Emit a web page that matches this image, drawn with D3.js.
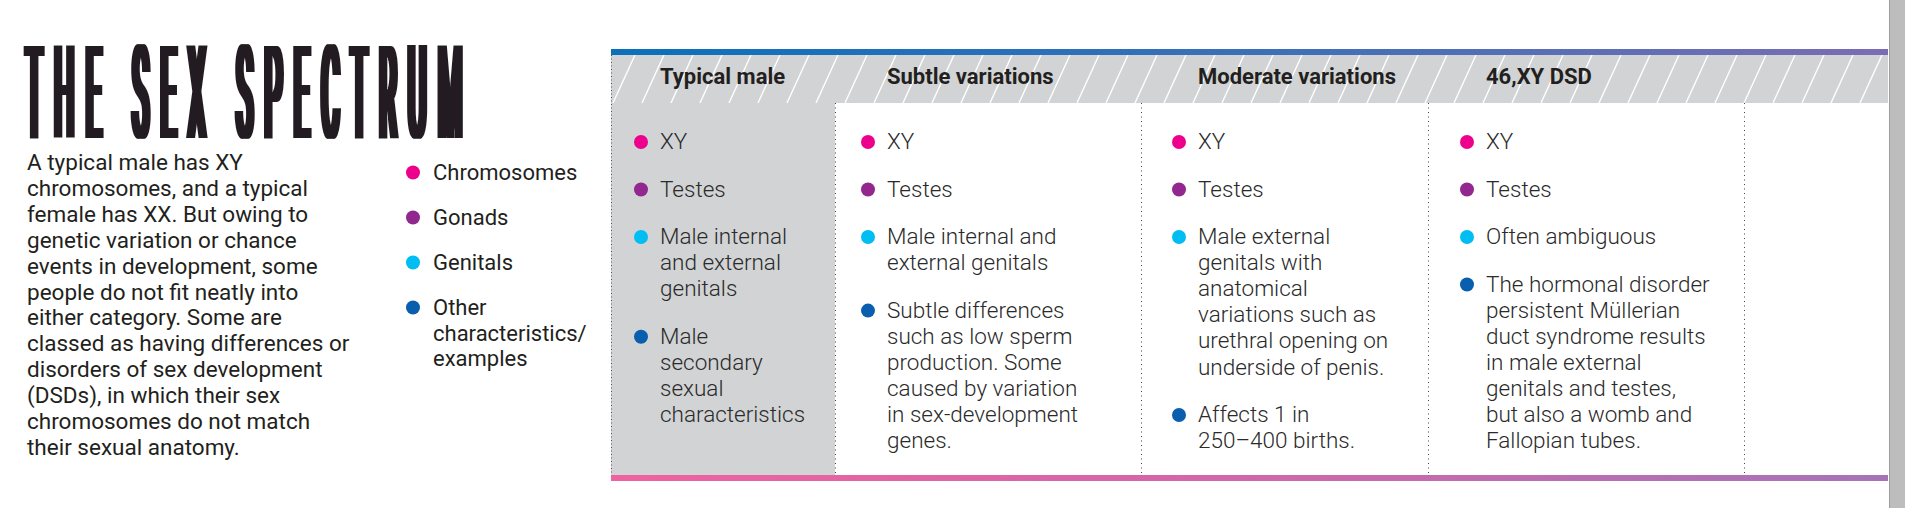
<!DOCTYPE html>
<html>
<head>
<meta charset="utf-8">
<script src="https://cdn.jsdelivr.net/npm/d3@7"></script>
<style>
	body { margin: 0; background: #fff; }
	text { font-family: Roboto, "Noto Sans", sans-serif; }
</style>
</head>
<body>
<div id="chart"></div>
<script>

///////////////////////////////////////////////////////////////////////////
/////////////////////////////// The data //////////////////////////////////
///////////////////////////////////////////////////////////////////////////

var title = "THE SEX SPECTRUM";

var introLines = [
	"A typical male has XY",
	"chromosomes, and a typical",
	"female has XX. But owing to",
	"genetic variation or chance",
	"events in development, some",
	"people do not fit neatly into",
	"either category. Some are",
	"classed as having differences or",
	"disorders of sex development",
	"(DSDs), in which their sex",
	"chromosomes do not match",
	"their sexual anatomy."
];

//Legend categories (already broken into lines) and their dot colours
var categories = [["Chromosomes"], ["Gonads"], ["Genitals"], ["Other", "characteristics/", "examples"]];
var categoryColors = ["#ec008c", "#92278f", "#00bdf2", "#0a5eae"];

//Column headers
var columns = ["Typical male", "Subtle variations", "Moderate variations", "46,XY DSD"];

//One entry per column, each entry is a list of lines
var chromosomes = [["XY"], ["XY"], ["XY"], ["XY"]];
var gonads = [["Testes"], ["Testes"], ["Testes"], ["Testes"]];
var genitals = [
	["Male internal", "and external", "genitals"],
	["Male internal and", "external genitals"],
	["Male external", "genitals with", "anatomical", "variations such as", "urethral opening on", "underside of penis."],
	["Often ambiguous"]
];
var otherTraits = [
	["Male", "secondary", "sexual", "characteristics"],
	["Subtle differences", "such as low sperm", "production. Some", "caused by variation", "in sex-development", "genes."],
	["Affects 1 in", "250\u2013400 births."],
	["The hormonal disorder", "persistent M\u00fcllerian", "duct syndrome results", "in male external", "genitals and testes,", "but also a womb and", "Fallopian tubes."]
];

///////////////////////////////////////////////////////////////////////////
//////////////////////////// Set up the SVG ///////////////////////////////
///////////////////////////////////////////////////////////////////////////

var width = 1905,
	height = 508;

var textColor = "#231f20",
	lineHeight = 26.1,
	itemGap = 47.5;

//Table frame
var tableLeft = 611,
	tableRight = 1888,
	barTop = 49,
	headTop = 55,
	headBottom = 103,
	tableBottom = 475;

//Column edges and where the text of each column starts
var colEdges = [611, 835, 1141, 1428, 1744, 1888];
var colText = d3.scaleOrdinal().domain(columns).range([660, 887, 1198, 1486]);

var svg = d3.select("#chart")
	.append("svg")
	.attr("width", width)
	.attr("height", height);

svg.append("rect").attr("width", width).attr("height", height).style("fill", "#fff");

///////////////////////////////////////////////////////////////////////////
////////////////////////// Create defs elements ///////////////////////////
///////////////////////////////////////////////////////////////////////////

var defs = svg.append("defs");

//Hatched header background
var hatch = defs.append("pattern")
	.attr("id", "hatch")
	.attr("patternUnits", "userSpaceOnUse")
	.attr("x", tableLeft)
	.attr("y", headTop)
	.attr("width", 29)
	.attr("height", headBottom - headTop);
hatch.append("rect")
	.attr("width", 29)
	.attr("height", headBottom - headTop)
	.style("fill", "#d1d3d4");
hatch.append("line")
	.attr("x1", 2).attr("y1", headBottom - headTop)
	.attr("x2", 24).attr("y2", 0)
	.style("stroke", "#fff")
	.style("stroke-width", 1.4);

//Thicken only the vertical stems of the title (horizontal dilation)
var stemFilter = defs.append("filter")
	.attr("id", "stems")
	.attr("filterUnits", "userSpaceOnUse")
	.attr("x", 0).attr("y", 0)
	.attr("width", 600).attr("height", 180);
stemFilter.append("feMorphology")
	.attr("operator", "dilate")
	.attr("radius", "3 0");

//Gradients for the top and bottom bars
var topGradient = defs.append("linearGradient")
	.attr("id", "top-gradient")
	.attr("x1", 0).attr("y1", 0)
	.attr("x2", 1).attr("y2", 0);
topGradient.append("stop").attr("offset", "0%").attr("stop-color", "#0b70ba");
topGradient.append("stop").attr("offset", "50%").attr("stop-color", "#3a70b8");
topGradient.append("stop").attr("offset", "100%").attr("stop-color", "#7b6db3");

var bottomGradient = defs.append("linearGradient")
	.attr("id", "bottom-gradient")
	.attr("x1", 0).attr("y1", 0)
	.attr("x2", 1).attr("y2", 0);
bottomGradient.append("stop").attr("offset", "0%").attr("stop-color", "#ef62a0");
bottomGradient.append("stop").attr("offset", "50%").attr("stop-color", "#cf68ab");
bottomGradient.append("stop").attr("offset", "100%").attr("stop-color", "#a673b7");

///////////////////////////////////////////////////////////////////////////
///////////////////////// Title, intro and legend /////////////////////////
///////////////////////////////////////////////////////////////////////////

//Very condensed title: squeeze a regular font, spread it out, fatten the stems
var titleScale = 0.21;
svg.append("g")
	.attr("class", "title-wrapper")
	.style("filter", "url(#stems)")
	.append("text")
	.attr("class", "title")
	.attr("transform", "translate(26,138) scale(" + titleScale + ",1)")
	.attr("textLength", 436 / titleScale)
	.attr("lengthAdjust", "spacing")
	.style("font-size", "130px")
	.style("font-weight", 400)
	.style("fill", textColor)
	.text(title);

svg.append("g").attr("class", "intro")
	.selectAll("text")
	.data(introLines)
	.enter().append("text")
	.attr("x", 27)
	.attr("y", function(d, i) { return 170 + i * 25.9; })
	.style("font-size", "22.5px")
	.style("fill", textColor)
	.text(function(d) { return d; });

//Legend, every entry flows under the previous one
var legend = svg.append("g").attr("class", "legend");
var legendY = 180;
categories.forEach(function(lines, k) {
	legend.append("circle")
		.attr("cx", 413)
		.attr("cy", legendY - 7.5)
		.attr("r", 7)
		.style("fill", categoryColors[k]);
	legend.selectAll(".legend-line-" + k)
		.data(lines)
		.enter().append("text")
		.attr("class", "legend-line-" + k)
		.attr("x", 433)
		.attr("y", function(d, j) { return legendY + j * 25.5; })
		.style("font-size", "22px")
		.style("fill", textColor)
		.text(function(d) { return d; });
	legendY += (lines.length - 1) * 25.5 + 45;
});

///////////////////////////////////////////////////////////////////////////
/////////////////////////////// The table /////////////////////////////////
///////////////////////////////////////////////////////////////////////////

var table = svg.append("g").attr("class", "table");

//Grey background of the typical male column
table.append("rect")
	.attr("x", colEdges[0])
	.attr("y", headBottom)
	.attr("width", colEdges[1] - colEdges[0])
	.attr("height", tableBottom - headBottom)
	.style("fill", "#d1d3d4");

//Hatched header
table.append("rect")
	.attr("x", tableLeft)
	.attr("y", headTop)
	.attr("width", tableRight - tableLeft)
	.attr("height", headBottom - headTop)
	.style("fill", "url(#hatch)");

//Coloured bars on top and bottom
table.append("rect")
	.attr("x", tableLeft)
	.attr("y", barTop)
	.attr("width", tableRight - tableLeft)
	.attr("height", headTop - barTop)
	.style("fill", "url(#top-gradient)");
table.append("rect")
	.attr("x", tableLeft)
	.attr("y", tableBottom)
	.attr("width", tableRight - tableLeft)
	.attr("height", 6)
	.style("fill", "url(#bottom-gradient)");

//Dotted left border and column dividers
table.append("line")
	.attr("x1", tableLeft + 0.5).attr("x2", tableLeft + 0.5)
	.attr("y1", headTop).attr("y2", tableBottom)
	.style("stroke", "#555")
	.style("stroke-dasharray", "1,2.5");
table.selectAll(".divider")
	.data(colEdges.slice(1, -1))
	.enter().append("line")
	.attr("class", "divider")
	.attr("x1", function(d) { return d + 0.5; })
	.attr("x2", function(d) { return d + 0.5; })
	.attr("y1", headBottom)
	.attr("y2", tableBottom)
	.style("stroke", "#444")
	.style("stroke-dasharray", "1,3.5");

//Column headers
table.selectAll(".header")
	.data(columns)
	.enter().append("text")
	.attr("class", "header")
	.attr("x", function(d) { return colText(d); })
	.attr("y", 84)
	.style("font-size", "22px")
	.style("font-weight", 700)
	.style("fill", textColor)
	.text(function(d) { return d; });

//Cells: every item flows under the previous one
var rows = [chromosomes, gonads, genitals, otherTraits];
columns.forEach(function(col, i) {
	var x = colText(col);
	var y = 149;
	var cell = table.append("g").attr("class", "cell");
	rows.forEach(function(row, k) {
		var lines = row[i];
		cell.append("circle")
			.attr("cx", x - 19)
			.attr("cy", y - 7)
			.attr("r", 7)
			.style("fill", categoryColors[k]);
		cell.selectAll(".line-" + k)
			.data(lines)
			.enter().append("text")
			.attr("class", "line-" + k)
			.attr("x", x)
			.attr("y", function(d, j) { return y + j * lineHeight; })
			.style("font-size", "22.5px")
			.style("font-weight", 300)
			.style("fill", "#2a2a2a")
			.text(function(d) { return d; });
		y += (lines.length - 1) * lineHeight + itemGap;
	});
});

//Page edge on the right
svg.append("rect")
	.attr("x", tableRight + 1)
	.attr("y", 0)
	.attr("width", width - tableRight - 1)
	.attr("height", height)
	.style("fill", "#bdbdbd");
svg.append("line")
	.attr("x1", tableRight + 1.5).attr("x2", tableRight + 1.5)
	.attr("y1", 0).attr("y2", height)
	.style("stroke", "#9d9d9d");

</script>
</body>
</html>
